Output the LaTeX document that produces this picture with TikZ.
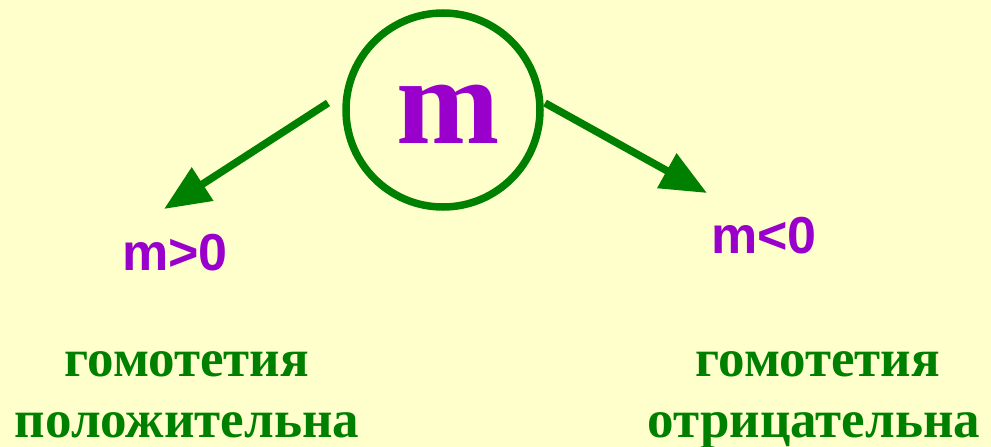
\documentclass[tikz,border=0pt]{standalone}
\usepackage{fontspec}
\setmainfont{Liberation Serif}
\setsansfont{Liberation Sans}
\usetikzlibrary{arrows.meta}
\definecolor{bgyellow}{HTML}{FFFFCC}
\definecolor{dgreen}{HTML}{008000}
\definecolor{mpurple}{HTML}{9900CC}
\tikzset{
  conn/.style={draw=dgreen, line width=7.5pt, -{Triangle[length=46pt,width=38pt]}},
  cond/.style={text=mpurple, font=\sffamily\bfseries\fontsize{52}{60}\selectfont, anchor=base, inner sep=0pt},
  kind/.style={text=dgreen, font=\rmfamily\bfseries\fontsize{53}{60}\selectfont, anchor=base, inner sep=0pt},
}
\begin{document}
\begin{tikzpicture}[x=1pt,y=-1pt]
\fill[bgyellow] (0,0) rectangle (991,447);
\useasboundingbox (0,0) rectangle (991,447);
\node[circle, draw=dgreen, line width=7.5pt, minimum size=194pt, inner sep=0pt] (m) at (443,110) {};
\node[text=mpurple, font=\rmfamily\bfseries\fontsize{124}{130}\selectfont, anchor=base, inner sep=0pt] (mletter) at (448,143) {m};
\coordinate (ls) at (328,103);
\coordinate (le) at (164,209);
\coordinate (rs) at (545,103);
\coordinate (re) at (707,193);
\draw[conn] (ls) -- (le);
\draw[conn] (rs) -- (re);
\node[cond] (pos) at (175,270) {m>0};
\node[cond] (neg) at (764,253) {m<0};
\node[kind] (h1) at (187,376) {гомотетия};
\node[kind] (p1) at (187,437) {положительна};
\node[kind] (h2) at (818,376) {гомотетия};
\node[kind] (n2) at (814,437) {отрицательна};
\end{tikzpicture}
\end{document}
